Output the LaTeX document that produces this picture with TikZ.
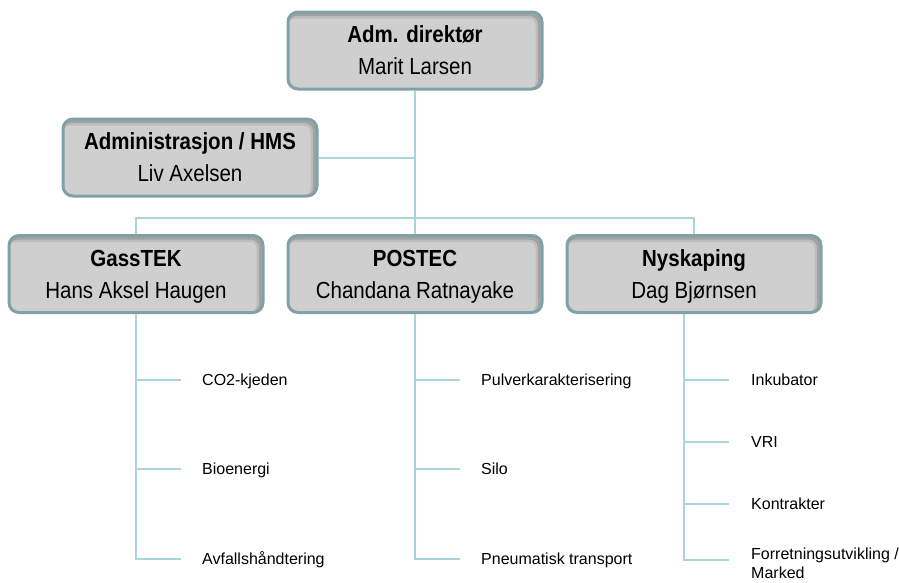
\documentclass[tikz,border=0pt]{standalone}
\usepackage{fontspec}
\setmainfont{Liberation Sans}
\newfontfamily\boxfont[FakeStretch=0.88]{Liberation Sans}
\definecolor{conn}{HTML}{A8D5DA}
\definecolor{boxfill}{HTML}{CFCFCF}
\definecolor{boxline}{HTML}{80A2A6}
\tikzset{
  orgbox/.style={rounded corners=10pt, minimum width=254pt, minimum height=77pt,
    fill=boxfill, draw=boxline, line width=3pt, align=center,
    font=\boxfont\fontsize{23.3}{32}\selectfont, inner sep=0pt, text depth=-4pt,
    path picture={
      \draw[line width=4pt, black!55, opacity=0.35, rounded corners=10pt]
        ([xshift=-2pt,yshift=-2pt]path picture bounding box.north west) rectangle
        ([xshift=-2pt,yshift=-2pt]path picture bounding box.south east);
      \draw[line width=7pt, black!55, opacity=0.2, rounded corners=10pt]
        ([xshift=-3pt,yshift=-3pt]path picture bounding box.north west) rectangle
        ([xshift=-3pt,yshift=-3pt]path picture bounding box.south east);
    }},
  conline/.style={draw=conn, line width=2pt},
  item/.style={anchor=base west, inner sep=0pt, font=\fontsize{16}{18.5}\selectfont, align=left},
}
\begin{document}
\begin{tikzpicture}[x=1pt,y=-1pt]
\useasboundingbox (0,0) rectangle (899,582);

% boxes
\node[orgbox] (top) at (415,50.5) {\textbf{Adm. direktør}\\Marit Larsen};
\node[orgbox] (adm) at (190,157.5) {\textbf{Administrasjon / HMS}\\Liv Axelsen};
\node[orgbox] (gass) at (136,274) {\textbf{GassTEK}\\Hans Aksel Haugen};
\node[orgbox] (postec) at (415,274) {\textbf{POSTEC}\\Chandana Ratnayake};
\node[orgbox] (nysk) at (694,274) {\textbf{Nyskaping}\\Dag Bjørnsen};

% main connectors
\coordinate (bus) at (415,218);
\draw[conline] (top.south) -- (postec.north);
\draw[conline] (adm.east) -- (adm.east -| top.south);
\draw[conline] (gass.north) |- (bus) -| (nysk.north);

% GassTEK items
\coordinate (ge1) at (181,380);
\coordinate (ge2) at (181,469);
\coordinate (ge3) at (181,559);
\draw[conline] (gass.south) |- (ge3);
\draw[conline] (gass.south |- ge1) -- (ge1);
\draw[conline] (gass.south |- ge2) -- (ge2);
\node[item] (g1) at (202,385.7) {CO2-kjeden};
\node[item] (g2) at (202,474.7) {Bioenergi};
\node[item] (g3) at (202,564.7) {Avfallshåndtering};

% POSTEC items
\coordinate (pe1) at (460,380);
\coordinate (pe2) at (460,469);
\coordinate (pe3) at (460,559);
\draw[conline] (postec.south) |- (pe3);
\draw[conline] (postec.south |- pe1) -- (pe1);
\draw[conline] (postec.south |- pe2) -- (pe2);
\node[item] (p1) at (481,385.7) {Pulverkarakterisering};
\node[item] (p2) at (481,474.7) {Silo};
\node[item] (p3) at (481,564.7) {Pneumatisk transport};

% Nyskaping items
\coordinate (ns) at ([xshift=-10pt]nysk.south);
\coordinate (ne1) at (729,380);
\coordinate (ne2) at (729,442);
\coordinate (ne3) at (729,504);
\coordinate (ne4) at (729,560);
\draw[conline] (ns) |- (ne4);
\draw[conline] (ns |- ne1) -- (ne1);
\draw[conline] (ns |- ne2) -- (ne2);
\draw[conline] (ns |- ne3) -- (ne3);
\node[item] (n1) at (751,385.7) {Inkubator};
\node[item] (n2) at (751,447.7) {VRI};
\node[item] (n3) at (751,509.7) {Kontrakter};
\node[item] (n4) at (751,578) {Forretningsutvikling /\\Marked};
\end{tikzpicture}
\end{document}
